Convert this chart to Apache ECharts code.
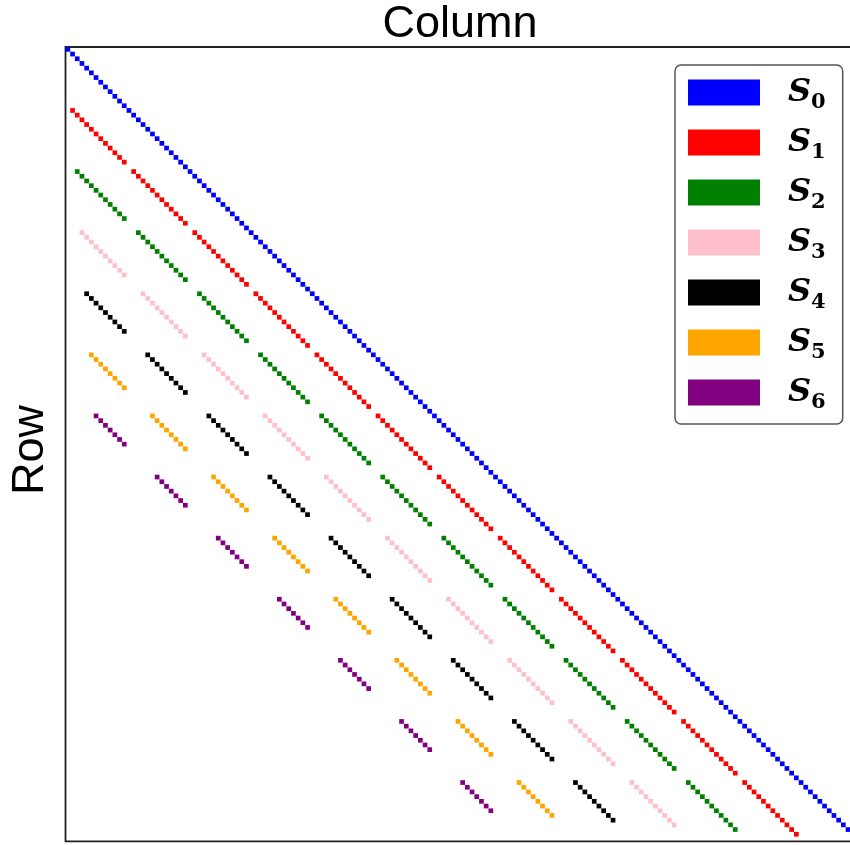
<!DOCTYPE html>
<html>
<head>
<meta charset="utf-8">
<script src="https://cdn.jsdelivr.net/npm/echarts@6/dist/echarts.min.js"></script>
<style>
html,body{margin:0;padding:0;background:#fff;overflow:hidden;}
#chart{width:872px;height:845px;}
</style>
</head>
<body>
<div id="chart"></div>
<script>
// Sparsity pattern: 13 x 13 blocks, each block 13 x 13
const blockCount = 13;
const blockSize = 13;
const seriesNames = ['S0', 'S1', 'S2', 'S3', 'S4', 'S5', 'S6'];
const shifts = [0, 1, 2, 3, 4, 5, 6];
const colors = ['#0000ff', '#ff0000', '#008000', '#ffc0cb', '#000000', '#ffa500', '#800080'];
const xTitle = 'Column';
const yTitle = 'Row';

// S_k: block (a, a-k), local entries (i, i+k), i = 0..blockSize-1-k
function patternPoints(k) {
  const pts = [];
  for (let a = k; a < blockCount; a++) {
    for (let i = 0; i + k < blockSize; i++) {
      const row = a * blockSize + i;
      const col = (a - k) * blockSize + i + k;
      pts.push([col, row]);
    }
  }
  return pts;
}

const n = blockCount * blockSize;
const chart = echarts.init(document.getElementById('chart'), null, {renderer: 'canvas'});
const cell = 4.70;
const gridLeft = 65.5, gridTop = 47;
const gridSize = n * cell;

const series = seriesNames.map((name, idx) => ({
  name: name,
  type: 'scatter',
  symbol: 'rect',
  symbolSize: 4.7,
  itemStyle: {color: colors[idx], opacity: 1},
  data: patternPoints(shifts[idx]),
  animation: false,
  silent: true,
  z: 10 - idx
}));

// legend patch: 72 x 26 visible rectangle inside a 72 x 40 item box
const legendIcon = 'path://M0,0L72,0L72,0Z M0,7L72,7L72,33L0,33Z M0,40L72,40L72,40Z';

chart.setOption({
  animation: false,
  backgroundColor: '#fff',
  grid: {
    left: gridLeft, top: gridTop, width: gridSize, height: gridSize,
    show: true, borderColor: '#222', borderWidth: 1.8, backgroundColor: 'transparent'
  },
  xAxis: {
    type: 'value', min: -0.5, max: n - 0.5, position: 'top',
    axisLine: {show: false}, axisTick: {show: false}, axisLabel: {show: false},
    splitLine: {show: false}
  },
  yAxis: {
    type: 'value', min: -0.5, max: n - 0.5, inverse: true,
    axisLine: {show: false}, axisTick: {show: false}, axisLabel: {show: false},
    splitLine: {show: false}
  },
  legend: {
    orient: 'vertical',
    left: 675, top: 65,
    padding: [7, 17, 11, 13],
    itemWidth: 72, itemHeight: 40, itemGap: 9,
    icon: legendIcon,
    backgroundColor: '#fff',
    borderColor: '#555', borderWidth: 1.5, borderRadius: 6,
    data: seriesNames,
    selectedMode: false,
    formatter: name => '{s|S}{sub|' + name.slice(1) + '}',
    textStyle: {
      padding: [0, 0, 0, 23],
      rich: {
        s: {fontFamily: 'DejaVu Serif', fontStyle: 'italic', fontWeight: 'bold', fontSize: 32, color: '#000', lineHeight: 40, verticalAlign: 'middle'},
        sub: {fontFamily: 'DejaVu Serif', fontWeight: 'bold', fontSize: 21, color: '#000', lineHeight: 20, padding: [20, 0, 0, 0], verticalAlign: 'middle'}
      }
    }
  },
  graphic: [
    {type: 'text', x: 460, y: 2, style: {text: xTitle, font: '45px "Liberation Sans", sans-serif', fill: '#000', textAlign: 'center', textVerticalAlign: 'top'}},
    {type: 'text', rotation: Math.PI / 2, x: 8, y: 450, style: {text: yTitle, font: '45px "Liberation Sans", sans-serif', fill: '#000', textAlign: 'center', textVerticalAlign: 'top'}}
  ],
  series: series
});
</script>
</body>
</html>
